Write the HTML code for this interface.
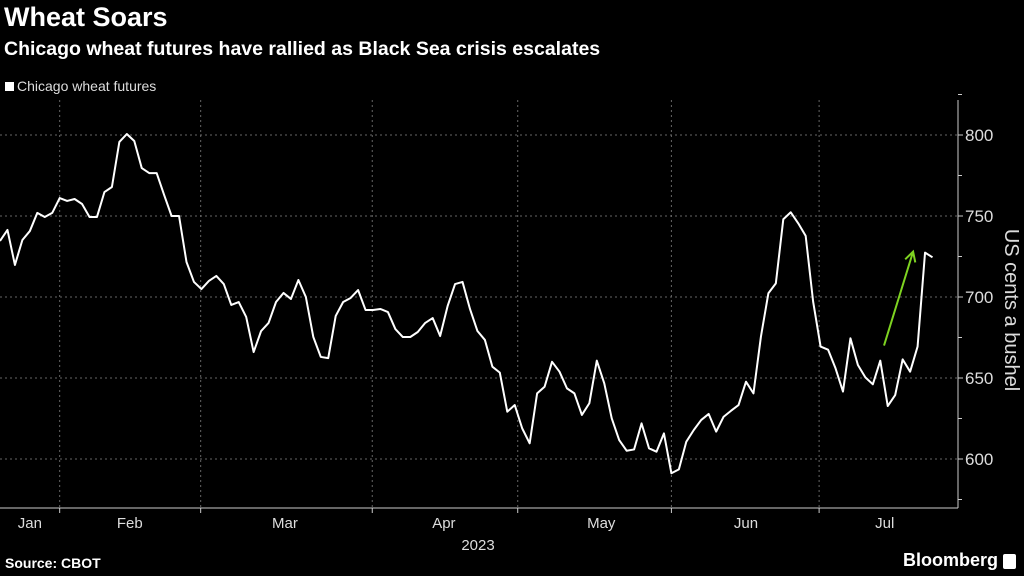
<!DOCTYPE html>
<html><head><meta charset="utf-8"><style>
body{margin:0;background:#000;width:1024px;height:576px;overflow:hidden;font-family:"Liberation Sans",sans-serif;color:#fff}
.t{position:absolute;white-space:nowrap}
</style></head><body>
<div class="t" style="left:4px;top:2px;font-size:27px;font-weight:bold">Wheat Soars</div>
<div class="t" style="left:4px;top:38px;font-size:19.5px;font-weight:bold">Chicago wheat futures have rallied as Black Sea crisis escalates</div>
<div class="t" style="left:5px;top:78px;font-size:14px;color:#ddd"><span style="display:inline-block;width:9px;height:9px;background:#fff;margin-right:3px"></span>Chicago wheat futures</div>
<div class="t" style="left:5px;top:555px;font-size:14px;font-weight:bold">Source: CBOT</div>
<div class="t" style="right:26px;top:550px;font-size:18px;font-weight:bold">Bloomberg</div>
<div class="t" style="right:8px;top:554px;width:13px;height:15px;background:#fff;border-radius:2px"></div>
<svg id="c" width="1024" height="576" style="position:absolute;left:0;top:0"></svg>
<script>
const values=[734.6,741.4,719.8,735.2,740.7,751.9,749.4,751.9,761.1,759.3,760.5,757.4,749.4,749.4,764.8,767.9,795.7,800.6,796.3,779.6,776.5,776.5,763,750,750,721.6,709.3,704.9,709.9,713,708,695.1,696.9,687.7,666,679,684,696.9,702.5,698.8,710.5,700,675.3,663,662.3,688.3,696.9,699.4,704.3,692,692,692.6,690.7,680.2,675.3,675.3,678.4,684,687,675.9,694.4,708,709.3,692.6,679,
673.5,657,653.3,629.2,633.3,618.9,609.7,640.5,644.6,660,653.9,643.6,640.5,627.2,634.4,660.7,646.7,625.1,611.7,605.1,605.9,622,606.6,604.5,615.8,591.2,593.6,610.7,617.9,624.1,627.8,616.9,626.1,629.8,633.3,647.7,640.5,675.5,702.3,708.4,748,752.3,745.5,737.7,697.1,669.4,667.5,656,641.6,674.5,658,650.4,646.1,660.7,632.7,639.5,661.5,653.9,669.4,727.4,724.5];
const monthLabels=["Jan","Feb","Mar","Apr","May","Jun","Jul"];
const monthLabelPos=[4.0,17.4,38.2,59.5,80.6,100,118.6];
const monthStarts=[8,26.9,49.9,69.4,90,109.8];
const yTicks=[600,650,700,750,800];
const arrowFrom=[118.5,670];const arrowTo=[122.4,728];
const NS="http://www.w3.org/2000/svg",svg=document.getElementById('c');
const X0=0,DX=7.46,x=i=>X0+i*DX,y=v=>459-(v-600)*1.62;
const AX=958,BOT=508,TOP=100;
function mk(t,a){const e=document.createElementNS(NS,t);for(const k in a)e.setAttribute(k,a[k]);svg.appendChild(e);return e;}
yTicks.forEach(v=>{const g=mk('line',{x1:0,x2:AX,y1:y(v),y2:y(v),stroke:'#666','stroke-dasharray':'2,3','stroke-width':1});


const t=mk('text',{x:AX+7,y:y(v)+6,fill:'#ddd','font-size':17});t.textContent=v;


mk('line',{x1:AX,x2:AX+5,y1:y(v),y2:y(v),stroke:'#ccc'});
mk('line',{x1:AX,x2:AX+4,y1:y(v+25),y2:y(v+25),stroke:'#ccc'});});
mk('line',{x1:AX,x2:AX+4,y1:y(575),y2:y(575),stroke:'#ccc'});
monthStarts.forEach(m=>{const g=mk('line',{x1:x(m),x2:x(m),y1:TOP,y2:BOT,stroke:'#666','stroke-dasharray':'2,3'});


mk('line',{x1:x(m),x2:x(m),y1:BOT,y2:BOT+5,stroke:'#ccc'});});
monthLabels.forEach((l,i)=>{
const t=mk('text',{x:x(monthLabelPos[i]),y:528,fill:'#ddd','font-size':15,'text-anchor':'middle'});t.textContent=l;

});
const yr=mk('text',{x:478,y:550,fill:'#ddd','font-size':15,'text-anchor':'middle'});yr.textContent='2023';


const ax=mk('line',{x1:AX,x2:AX,y1:TOP,y2:BOT,stroke:'#ccc'});


const bx=mk('line',{x1:0,x2:AX,y1:BOT,y2:BOT,stroke:'#ccc'});


const yt=mk('text',{x:0,y:0,fill:'#ddd','font-size':20,'text-anchor':'middle',transform:'translate(1005,310) rotate(90)'});yt.textContent='US cents a bushel';


const p=mk('polyline',{points:values.map((v,i)=>x(i)+','+y(v)).join(' '),fill:'none',stroke:'#fff','stroke-width':2,'stroke-linejoin':'round'});


const x1=x(arrowFrom[0]),y1=y(arrowFrom[1]),x2=x(arrowTo[0]),y2=y(arrowTo[1]);
const ang=Math.atan2(y2-y1,x2-x1);
const ar=mk('path',{d:`M${x1},${y1}L${x2},${y2}M${x2-11*Math.cos(ang-0.5)},${y2-11*Math.sin(ang-0.5)}L${x2},${y2}L${x2-11*Math.cos(ang+0.5)},${y2-11*Math.sin(ang+0.5)}`,fill:'none',stroke:'#7ed321','stroke-width':2});


</script>
</body></html>
